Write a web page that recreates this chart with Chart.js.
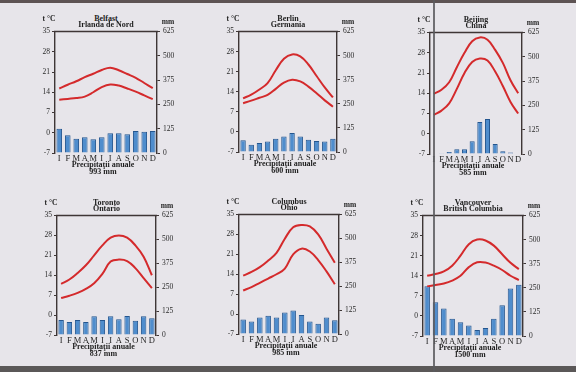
<!DOCTYPE html>
<html>
<head>
<meta charset="utf-8">
<script src="https://cdn.jsdelivr.net/npm/chart.js@4.4.1/dist/chart.umd.min.js"></script>
<style>
  html, body { margin: 0; padding: 0; }
  body { width: 576px; height: 372px; position: relative; overflow: hidden; background: #e7e5ea; font-family: 'Liberation Serif', 'DejaVu Serif', serif; }
  canvas.ch { position: absolute; }
  .lbl { position: absolute; transform: translate(-50%, -50%); white-space: nowrap; color: #1e1e1e; font-weight: bold; line-height: 1; }
  .band-top { position: absolute; left: 0; top: 0; width: 576px; height: 3px; background: #5d5353; }
  .band-bot { position: absolute; left: 0; top: 366px; width: 576px; height: 6px; background: #5b5858; }
  .fold { position: absolute; left: 433px; top: 0; width: 2px; height: 372px; background: #5a5a5e; opacity: 0.85; }
</style>
</head>
<body>
<div class="band-top"></div>
<div class="band-bot"></div>

<script>
// ---------- DATA ----------
const months = ['I','F','M','A','M','I','I','A','S','O','N','D'];
const tempTicks = [-7, 0, 7, 14, 21, 28, 35];
const precipTicks = [0, 125, 250, 375, 500, 625];

const cityNames   = ['Belfast', 'Berlin', 'Beijing', 'Toronto', 'Columbus', 'Vancouver'];
const regionNames = ['Irlanda de Nord', 'Germania', 'China', 'Ontario', 'Ohio', 'British Columbia'];
const annualPrecip = [993, 600, 585, 837, 985, 1500];

const belfastMax    = [15.3, 16.6, 17.8, 19.2, 20.4, 21.7, 22.5, 21.6, 20.3, 19.0, 17.2, 15.4];
const belfastMin    = [11.4, 11.7, 12.0, 12.5, 14.0, 15.8, 16.7, 16.3, 15.3, 14.2, 12.9, 11.6];
const belfastPrecip = [125, 91, 73, 81, 71, 81, 101, 101, 97, 113, 109, 113];

const berlinMax     = [11.7, 13.0, 14.8, 17.0, 21.5, 25.5, 27.0, 26.3, 23.5, 19.5, 15.5, 12.0];
const berlinMin     = [10.0, 10.9, 11.9, 12.9, 15.0, 17.2, 18.2, 17.6, 15.8, 13.5, 11.0, 8.8];
const berlinPrecip  = [61, 37, 47, 55, 69, 80, 98, 80, 63, 57, 55, 69];

const beijingMax    = [13.8, 15.2, 17.8, 23.0, 28.0, 32.0, 33.3, 32.5, 29.0, 24.5, 18.5, 14.0];
const beijingMin    = [6.5, 8.0, 10.5, 15.5, 21.0, 24.8, 26.0, 25.3, 21.5, 16.5, 11.0, 7.0];
const beijingPrecip = [2, 4, 10, 24, 24, 65, 165, 180, 52, 14, 8, 2];

const torontoMax    = [11.0, 12.5, 14.8, 17.5, 21.0, 24.5, 27.2, 28.0, 27.2, 24.5, 20.5, 14.0];
const torontoMin    = [6.0, 6.8, 7.8, 9.2, 11.2, 14.5, 18.8, 19.5, 19.0, 16.5, 13.0, 9.5];
const torontoPrecip = [78, 68, 78, 68, 98, 78, 98, 82, 100, 74, 98, 88];

const columbusMax    = [13.5, 14.8, 16.5, 18.8, 21.5, 26.5, 30.5, 31.3, 30.8, 28.0, 23.0, 18.0];
const columbusMin    = [8.3, 9.5, 11.0, 12.5, 14.0, 16.0, 21.0, 23.0, 22.0, 19.0, 15.0, 10.5];
const columbusPrecip = [76, 66, 86, 96, 86, 113, 123, 100, 66, 53, 86, 72];

const vancouverMax    = [14.0, 14.6, 15.5, 17.5, 21.0, 25.0, 26.6, 26.3, 24.5, 21.5, 18.5, 16.3];
const vancouverMin    = [10.3, 10.8, 11.3, 12.3, 14.0, 17.0, 18.7, 18.6, 17.5, 16.0, 14.0, 12.5];
const vancouverPrecip = [258, 175, 143, 90, 71, 55, 31, 41, 90, 159, 247, 266];

const maxSeries    = [belfastMax, berlinMax, beijingMax, torontoMax, columbusMax, vancouverMax];
const minSeries    = [belfastMin, berlinMin, beijingMin, torontoMin, columbusMin, vancouverMin];
const precipSeries = [belfastPrecip, berlinPrecip, beijingPrecip, torontoPrecip, columbusPrecip, vancouverPrecip];

// ---------- LAYOUT (plot-area boxes) ----------
const boxes = [
  {L: 55,  R: 157, T: 29,  B: 153},
  {L: 239, R: 337, T: 29,  B: 152},
  {L: 430, R: 522, T: 30,  B: 154},
  {L: 57,  R: 156, T: 213, B: 335},
  {L: 239, R: 339, T: 212, B: 334},
  {L: 423, R: 523, T: 213, B: 336}
];
const LEFT_W = 20, RIGHT_W = 24, BOTTOM_H = 12, TOP_PAD = 5;
const AXIS_COLOR = '#3e3636';
const LINE_COLOR = '#d42a2c';

Chart.defaults.font.family = "'Liberation Serif', 'DejaVu Serif', serif";
Chart.defaults.color = '#222';

const topBorder = {
  id: 'topBorder',
  afterDraw(chart) {
    const a = chart.chartArea, ctx = chart.ctx;
    ctx.save();
    ctx.strokeStyle = AXIS_COLOR;
    ctx.lineWidth = 1.3;
    ctx.beginPath();
    ctx.moveTo(a.left - 1, a.top);
    ctx.lineTo(a.right + 1, a.top);
    ctx.stroke();
    ctx.restore();
  }
};

function addLabel(text, x, y, size) {
  const d = document.createElement('div');
  d.className = 'lbl';
  d.textContent = text;
  d.style.left = x + 'px';
  d.style.top = y + 'px';
  d.style.fontSize = size + 'px';
  document.body.appendChild(d);
}

boxes.forEach((b, i) => {
  const cv = document.createElement('canvas');
  cv.className = 'ch';
  const w = (b.R - b.L) + LEFT_W + RIGHT_W;
  const h = (b.B - b.T) + TOP_PAD + BOTTOM_H;
  cv.width = w; cv.height = h;
  cv.style.left = (b.L - LEFT_W) + 'px';
  cv.style.top = (b.T - TOP_PAD) + 'px';
  cv.style.width = w + 'px';
  cv.style.height = h + 'px';
  document.body.appendChild(cv);

  new Chart(cv, {
    data: {
      labels: months,
      datasets: [
        { type: 'line', data: maxSeries[i], yAxisID: 'y', borderColor: LINE_COLOR, borderWidth: 2, pointRadius: 0, tension: 0.4, fill: false, order: 0 },
        { type: 'line', data: minSeries[i], yAxisID: 'y', borderColor: LINE_COLOR, borderWidth: 2, pointRadius: 0, tension: 0.4, fill: false, order: 0 },
        { type: 'bar', data: precipSeries[i], yAxisID: 'y2', backgroundColor: '#4f8dcd', borderColor: '#24568f', borderWidth: {left: 1, right: 1, top: 1, bottom: 0}, barPercentage: 0.66, categoryPercentage: 1, order: 1 }
      ]
    },
    options: {
      responsive: false,
      animation: false,
      layout: { padding: { top: TOP_PAD, left: 0, right: 0, bottom: 0 } },
      plugins: { legend: { display: false }, tooltip: { enabled: false }, title: { display: false } },
      scales: {
        x: {
          type: 'category',
          offset: true,
          grid: { display: false, drawTicks: false, tickLength: 0 },
          border: { display: false },
          ticks: { autoSkip: false, maxRotation: 0, padding: 1, font: { size: 8.5 }, color: '#1e1e1e' },
          afterFit(s) { s.height = BOTTOM_H; }
        },
        y: {
          position: 'left',
          min: tempTicks[0], max: tempTicks[tempTicks.length - 1],
          afterBuildTicks(s) { s.ticks = tempTicks.map(v => ({ value: v })); },
          grid: { display: true, drawOnChartArea: false, drawTicks: true, tickLength: 3, color: AXIS_COLOR, lineWidth: 1 },
          border: { display: true, color: AXIS_COLOR, width: 1.4 },
          ticks: { padding: 2, font: { size: 7.5 }, color: '#2a2a2a' },
          afterFit(s) { s.width = LEFT_W; }
        },
        y2: {
          position: 'right',
          min: precipTicks[0], max: precipTicks[precipTicks.length - 1],
          afterBuildTicks(s) { s.ticks = precipTicks.map(v => ({ value: v })); },
          grid: { display: true, drawOnChartArea: false, drawTicks: true, tickLength: 3, color: AXIS_COLOR, lineWidth: 1 },
          border: { display: true, color: AXIS_COLOR, width: 1.4 },
          ticks: { padding: 3, font: { size: 7.5 }, color: '#2a2a2a' },
          afterFit(s) { s.width = RIGHT_W; }
        }
      }
    },
    plugins: [topBorder]
  });

  const cx = (b.L + b.R) / 2;
  addLabel(cityNames[i], cx, b.T - 10.5, 8);
  addLabel(regionNames[i], cx, b.T - 4.5, 8);
  addLabel('t °C', b.L - 6, b.T - 10, 7.5);
  addLabel('mm', b.R + 11, b.T - 7, 7.5);
  addLabel('Precipitaţii anuale', cx - 3, b.B + 12, 8);
  addLabel(annualPrecip[i] + ' mm', cx - 3, b.B + 18.5, 8);
});

const fold = document.createElement('div');
fold.className = 'fold';
document.body.appendChild(fold);
</script>
</body>
</html>
